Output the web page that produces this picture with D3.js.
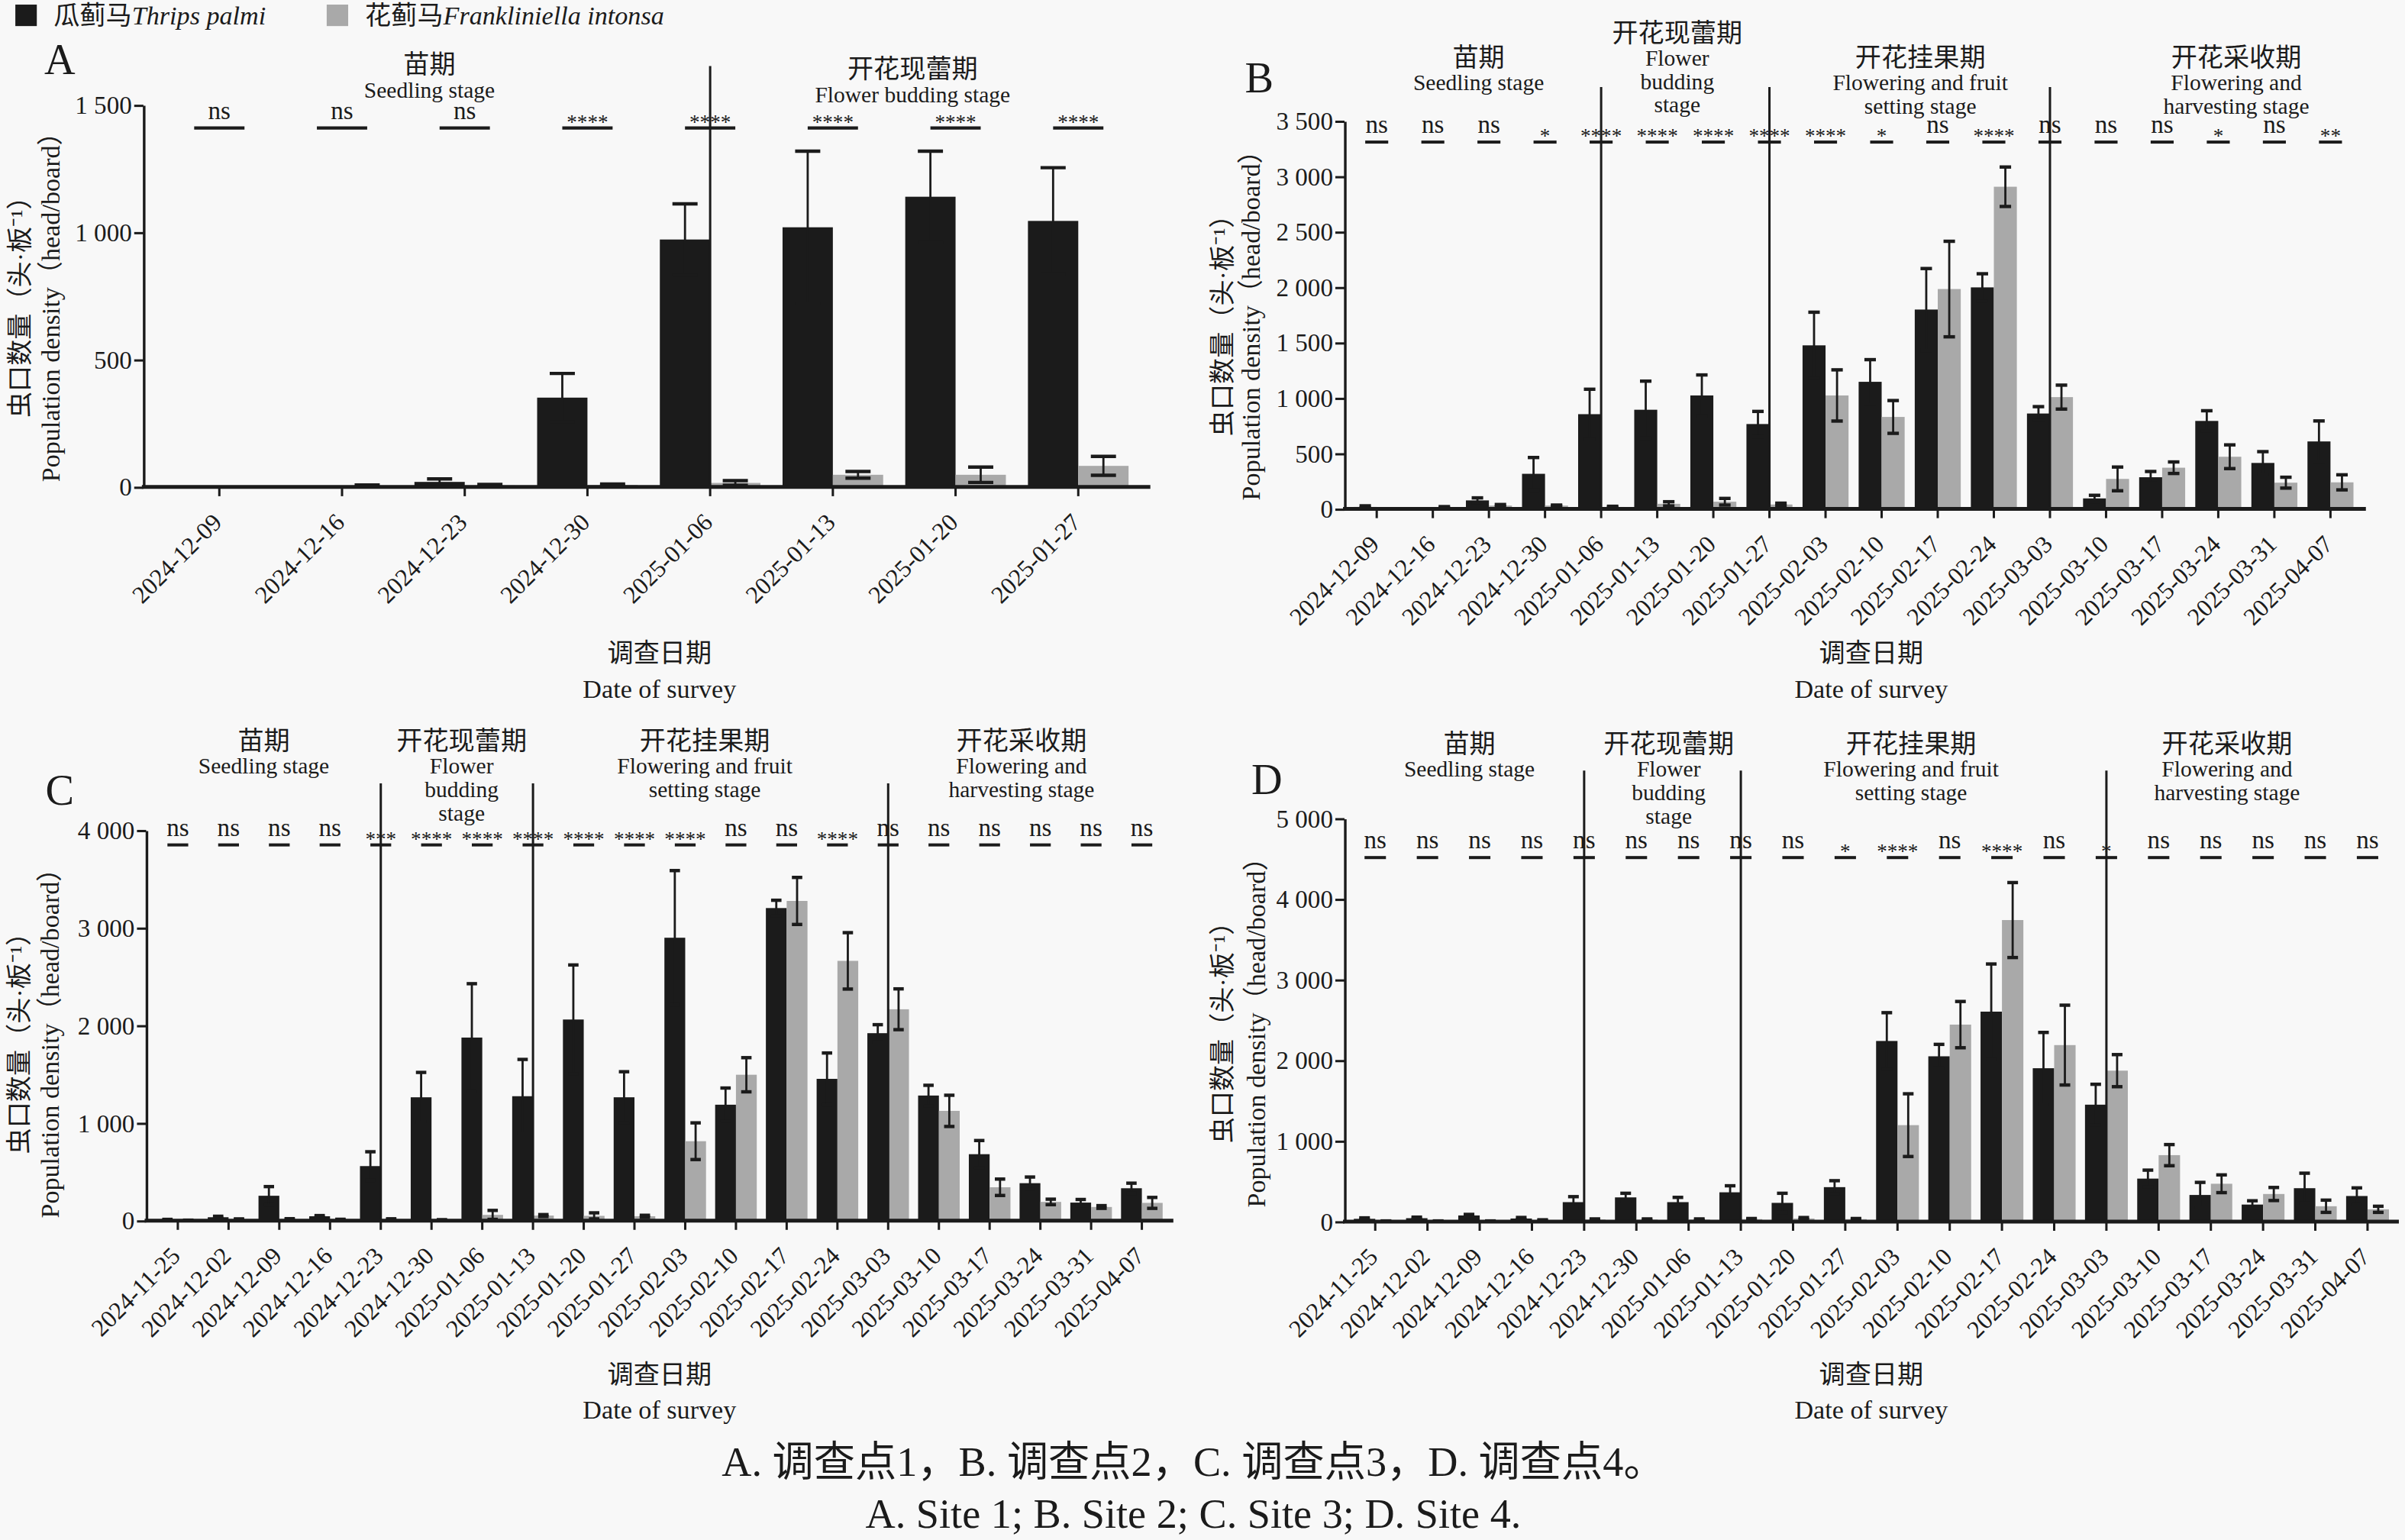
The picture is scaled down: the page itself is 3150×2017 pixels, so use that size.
<!DOCTYPE html>
<html>
<head>
<meta charset="utf-8">
<script src="https://cdn.jsdelivr.net/npm/d3@7"></script>
<style>
  html, body { margin: 0; padding: 0; background: #f8f8f8; }
  svg { display: block; }
  text { font-family: "Liberation Serif", "Times New Roman", "Noto Sans CJK SC", serif; fill: #1b1b1b; }
</style>
</head>
<body>
<svg id="chart"></svg>
<script>
// ---------- data ----------
const datesA = ['2024-12-09', '2024-12-16', '2024-12-23', '2024-12-30', '2025-01-06', '2025-01-13', '2025-01-20', '2025-01-27'];
const datesB = ['2024-12-09', '2024-12-16', '2024-12-23', '2024-12-30', '2025-01-06', '2025-01-13', '2025-01-20', '2025-01-27',
  '2025-02-03', '2025-02-10', '2025-02-17', '2025-02-24', '2025-03-03', '2025-03-10', '2025-03-17', '2025-03-24', '2025-03-31', '2025-04-07'];
const datesCD = ['2024-11-25', '2024-12-02', '2024-12-09', '2024-12-16', '2024-12-23', '2024-12-30', '2025-01-06', '2025-01-13',
  '2025-01-20', '2025-01-27', '2025-02-03', '2025-02-10', '2025-02-17', '2025-02-24', '2025-03-03', '2025-03-10', '2025-03-17',
  '2025-03-24', '2025-03-31', '2025-04-07'];

// Site 1
const palmiA = [0, 0, 20, 351, 972, 1020, 1140, 1045];
const palmiErrA = [0, 0, 12, 95, 140, 299, 179, 209];
const intonsaA = [0, 4, 6, 8, 16, 48, 48, 83];
const intonsaErrA = [0, 4, 4, 4, 9, 13, 30, 37];
const sigA = ['ns', 'ns', 'ns', '****', '****', '****', '****', '****'];

// Site 2
const palmiB = [18, 0, 77, 317, 855, 895, 1024, 766, 1476, 1147, 1799, 1999, 861, 95, 286, 794, 415, 609];
const palmiErrB = [10, 0, 23, 147, 225, 258, 185, 114, 299, 200, 370, 123, 62, 28, 52, 92, 102, 185];
const intonsaB = [0, 15, 30, 30, 18, 46, 65, 40, 1024, 830, 1984, 2907, 1009, 271, 372, 471, 237, 240];
const intonsaErrB = [0, 6, 10, 5, 6, 19, 30, 12, 231, 148, 431, 178, 108, 107, 52, 107, 49, 68];
const sigB = ['ns', 'ns', 'ns', '*', '****', '****', '****', '****', '****', '*', 'ns', '****', 'ns', 'ns', 'ns', '*', 'ns', '**'];

// Site 3
const palmiC = [8, 35, 255, 45, 559, 1264, 1876, 1275, 2061, 1264, 2899, 1188, 3203, 1453, 1921, 1282, 681, 384, 185, 332];
const palmiErrC = [5, 10, 94, 7, 147, 255, 552, 377, 559, 262, 688, 171, 80, 265, 87, 105, 140, 63, 32, 52];
const intonsaC = [3, 14, 14, 10, 14, 7, 59, 52, 49, 45, 814, 1495, 3276, 2662, 2166, 1125, 342, 192, 140, 182];
const intonsaErrC = [2, 4, 6, 4, 5, 3, 46, 10, 31, 10, 188, 175, 241, 289, 209, 160, 84, 28, 14, 56];
const sigC = ['ns', 'ns', 'ns', 'ns', '***', '****', '****', '****', '****', '****', '****', 'ns', 'ns', '****', 'ns', 'ns', 'ns', 'ns', 'ns', 'ns'];

// Site 4
const palmiD = [34, 42, 76, 38, 241, 300, 241, 363, 232, 427, 2240, 2050, 2604, 1902, 1450, 533, 330, 211, 414, 317];
const palmiErrD = [12, 13, 13, 13, 68, 51, 59, 81, 119, 80, 351, 148, 591, 444, 253, 105, 156, 47, 186, 101];
const intonsaD = [5, 5, 5, 17, 25, 25, 25, 30, 38, 30, 1196, 2443, 3740, 2189, 1872, 824, 469, 342, 190, 152];
const intonsaErrD = [3, 3, 3, 5, 8, 8, 8, 8, 12, 8, 389, 287, 465, 495, 199, 131, 110, 81, 76, 38];
const sigD = ['ns', 'ns', 'ns', 'ns', 'ns', 'ns', 'ns', 'ns', 'ns', '*', '****', 'ns', '****', 'ns', '*', 'ns', 'ns', 'ns', 'ns', 'ns'];

// labels
const legendNames = [['瓜蓟马', 'Thrips palmi'], ['花蓟马', 'Frankliniella intonsa']];
const stageSeedling = ['苗期', 'Seedling stage'];
const stageBudOneLine = ['开花现蕾期', 'Flower budding stage'];
const stageBud = ['开花现蕾期', 'Flower', 'budding', 'stage'];
const stageFruit = ['开花挂果期', 'Flowering and fruit', 'setting stage'];
const stageHarvest = ['开花采收期', 'Flowering and', 'harvesting stage'];
const yTitleCn = '虫口数量（头·板⁻¹）';
const yTitleEn = 'Population density（head/board）';
const xTitleCn = '调查日期';
const xTitleEn = 'Date of survey';
const captionCn = 'A. 调查点1，B. 调查点2，C. 调查点3，D. 调查点4。';
const captionEn = 'A. Site 1; B. Site 2; C. Site 3; D. Site 4.';

// ---------- drawing ----------
const W = 1568, H = 1004;
const BLACK = '#1b1b1b', GREY = '#a9a9a9';

const svg = d3.select('#chart')
    .attr('width', 3150)
    .attr('height', 2017)
    .attr('viewBox', `0 0 ${W} ${H}`)
    .attr('preserveAspectRatio', 'none');

svg.append('rect').attr('width', W).attr('height', H).attr('fill', '#f8f8f8');

// "1 500" style tick labels
const fmtTick = v => v >= 1000 ? Math.floor(v / 1000) + ' ' + String(v % 1000).padStart(3, '0') : String(v);

function drawPanel(p) {
  const g = svg.append('g').attr('class', 'panel panel-' + p.letter);

  const rows = p.dates.map((d, i) => ({
    date: d,
    palmi: p.palmi[i], palmiErr: p.palmiErr[i],
    intonsa: p.intonsa[i], intonsaErr: p.intonsaErr[i],
    sig: p.sig[i]
  }));

  const x = d3.scaleBand().domain(p.dates).range(p.xRange);
  const y = d3.scaleLinear().domain([0, p.yMax]).range(p.yRange);
  const bw = x.bandwidth() * 0.41;
  const mid = d => x(d) + x.bandwidth() / 2;
  const base = y(0);

  // bars: T. palmi left of the tick, F. intonsa right of it
  g.selectAll('rect.palmi')
    .data(rows)
    .join('rect')
      .attr('class', 'palmi')
      .attr('x', d => mid(d.date) - bw)
      .attr('y', d => y(d.palmi))
      .attr('width', bw)
      .attr('height', d => base - y(d.palmi))
      .attr('fill', BLACK);

  g.selectAll('rect.intonsa')
    .data(rows)
    .join('rect')
      .attr('class', 'intonsa')
      .attr('x', d => mid(d.date))
      .attr('y', d => y(d.intonsa))
      .attr('width', bw)
      .attr('height', d => base - y(d.intonsa))
      .attr('fill', GREY);

  // error bars (mean ± SE)
  const series = [{key: 'palmi', off: -bw / 2}, {key: 'intonsa', off: bw / 2}];
  const cap = bw * 0.5;
  series.forEach(s => {
    const eg = g.selectAll('g.err-' + s.key)
      .data(rows.filter(r => r[s.key + 'Err'] > 0))
      .join('g')
        .attr('class', 'err-' + s.key)
        .attr('stroke', BLACK);
    const hi = d => y(d[s.key] + d[s.key + 'Err']);
    const lo = d => y(Math.max(0, d[s.key] - d[s.key + 'Err']));
    eg.append('line')
      .attr('x1', d => mid(d.date) + s.off).attr('x2', d => mid(d.date) + s.off)
      .attr('y1', lo).attr('y2', hi)
      .attr('stroke-width', 1.4);
    eg.append('line')
      .attr('x1', d => mid(d.date) + s.off - cap / 2).attr('x2', d => mid(d.date) + s.off + cap / 2)
      .attr('y1', hi).attr('y2', hi)
      .attr('stroke-width', 2.2);
    eg.append('line')
      .attr('x1', d => mid(d.date) + s.off - cap / 2).attr('x2', d => mid(d.date) + s.off + cap / 2)
      .attr('y1', lo).attr('y2', lo)
      .attr('stroke-width', 2.2);
  });

  // significance marks
  const sy = y(p.sigLevel);
  g.selectAll('line.sig')
    .data(rows)
    .join('line')
      .attr('class', 'sig')
      .attr('x1', d => mid(d.date) - bw / 2)
      .attr('x2', d => mid(d.date) + bw / 2)
      .attr('y1', sy).attr('y2', sy)
      .attr('stroke', BLACK)
      .attr('stroke-width', 2);
  g.selectAll('text.sig')
    .data(rows)
    .join('text')
      .attr('class', 'sig')
      .attr('x', d => mid(d.date))
      .attr('y', d => d.sig === 'ns' ? sy - 6 : sy + 0.5)
      .attr('text-anchor', 'middle')
      .attr('font-size', d => d.sig === 'ns' ? 16.5 : 13.5)
      .text(d => d.sig);

  // stage dividers
  g.selectAll('line.divider')
    .data(p.dividers.map(i => p.dates[i]))
    .join('line')
      .attr('class', 'divider')
      .attr('x1', d => mid(d)).attr('x2', d => mid(d))
      .attr('y1', p.dividerTop).attr('y2', base)
      .attr('stroke', BLACK)
      .attr('stroke-width', 1.5);

  // stage labels
  p.stages.forEach(st => {
    st.lines.forEach((t, k) => {
      g.append('text')
        .attr('x', st.x)
        .attr('y', st.top + (k === 0 ? 0 : 16.5 + (k - 1) * 15.2))
        .attr('text-anchor', 'middle')
        .attr('dominant-baseline', 'central')
        .attr('font-size', k === 0 ? 17 : 14.7)
        .text(t);
    });
  });

  // y axis
  const yAxis = d3.axisLeft(y).tickValues(p.yTicks).tickSize(6).tickSizeOuter(0).tickFormat(fmtTick);
  const ya = g.append('g')
      .attr('transform', `translate(${p.axisX},0)`)
      .call(yAxis)
      .attr('font-family', null)
      .attr('font-size', null);
  ya.select('.domain').attr('stroke', BLACK).attr('stroke-width', 1.7);
  ya.selectAll('.tick line').attr('stroke', BLACK).attr('stroke-width', 1.5);
  ya.selectAll('.tick text').attr('x', -7.5).attr('font-size', 16.5).attr('fill', BLACK);

  // x axis
  const xa = g.append('g')
      .attr('transform', `translate(0,${base})`)
      .call(d3.axisBottom(x).tickSize(6).tickSizeOuter(0))
      .attr('font-family', null)
      .attr('font-size', null);
  xa.select('.domain').remove();
  xa.selectAll('.tick line').attr('stroke', BLACK).attr('stroke-width', 1.5);
  xa.selectAll('.tick text')
      .attr('x', 0).attr('y', 0).attr('dy', null)
      .attr('text-anchor', 'end')
      .attr('transform', 'translate(2.5,24) rotate(-45)')
      .attr('font-size', 16)
      .attr('fill', BLACK);
  g.append('line')
    .attr('x1', p.axisX - 1).attr('x2', p.axisEnd)
    .attr('y1', base).attr('y2', base)
    .attr('stroke', BLACK)
    .attr('stroke-width', 2.5);

  // axis titles
  g.append('text')
    .attr('transform', `translate(${p.yTitle[0]},${p.yTitle[2]}) rotate(-90)`)
    .attr('text-anchor', 'middle').attr('dominant-baseline', 'central')
    .attr('font-size', 17)
    .text(yTitleCn);
  g.append('text')
    .attr('transform', `translate(${p.yTitle[1]},${p.yTitle[2]}) rotate(-90)`)
    .attr('text-anchor', 'middle').attr('dominant-baseline', 'central')
    .attr('font-size', 17)
    .text(yTitleEn);

  g.append('text')
    .attr('x', p.xTitle[0]).attr('y', p.xTitle[1])
    .attr('text-anchor', 'middle').attr('dominant-baseline', 'central')
    .attr('font-size', 17)
    .text(xTitleCn);
  g.append('text')
    .attr('x', p.xTitle[0]).attr('y', p.xTitle[1] + 23)
    .attr('text-anchor', 'middle').attr('dominant-baseline', 'central')
    .attr('font-size', 17)
    .text(xTitleEn);

  // panel letter
  g.append('text')
    .attr('x', p.letterPos[0]).attr('y', p.letterPos[1])
    .attr('text-anchor', 'middle').attr('dominant-baseline', 'central')
    .attr('font-size', 28)
    .text(p.letter);
}

drawPanel({
  letter: 'A', letterPos: [39, 39],
  dates: datesA, palmi: palmiA, palmiErr: palmiErrA, intonsa: intonsaA, intonsaErr: intonsaErrA, sig: sigA,
  xRange: [103, 743], yRange: [317.5, 68.5], yMax: 1500, yTicks: [0, 500, 1000, 1500],
  axisX: 93.5, axisEnd: 750, sigLevel: 1410,
  dividers: [4], dividerTop: 43,
  stages: [{x: 280, top: 42, lines: stageSeedling}, {x: 595, top: 45, lines: stageBudOneLine}],
  yTitle: [13, 33, 196], xTitle: [430, 426]
});

drawPanel({
  letter: 'B', letterPos: [821, 51],
  dates: datesB, palmi: palmiB, palmiErr: palmiErrB, intonsa: intonsaB, intonsaErr: intonsaErrB, sig: sigB,
  xRange: [879.3, 1537.7], yRange: [331.8, 78.9], yMax: 3500, yTicks: [0, 500, 1000, 1500, 2000, 2500, 3000, 3500],
  axisX: 876.6, axisEnd: 1542.5, sigLevel: 3310,
  dividers: [4, 7, 12], dividerTop: 56.7,
  stages: [
    {x: 964, top: 37.5, lines: stageSeedling},
    {x: 1093.5, top: 21.5, lines: stageBud},
    {x: 1252, top: 37.5, lines: stageFruit},
    {x: 1458, top: 37.5, lines: stageHarvest}
  ],
  yTitle: [797, 815.5, 208], xTitle: [1220, 426]
});

drawPanel({
  letter: 'C', letterPos: [39, 515],
  dates: datesCD, palmi: palmiC, palmiErr: palmiErrC, intonsa: intonsaC, intonsaErr: intonsaErrC, sig: sigC,
  xRange: [99.4, 761], yRange: [795.8, 541.3], yMax: 4000, yTicks: [0, 1000, 2000, 3000, 4000],
  axisX: 95.3, axisEnd: 765, sigLevel: 3850,
  dividers: [4, 7, 14], dividerTop: 510.7,
  stages: [
    {x: 172, top: 483, lines: stageSeedling},
    {x: 301, top: 483, lines: stageBud},
    {x: 459.5, top: 483, lines: stageFruit},
    {x: 666, top: 483, lines: stageHarvest}
  ],
  yTitle: [12.5, 32.6, 676], xTitle: [430, 896]
});

drawPanel({
  letter: 'D', letterPos: [826, 508],
  dates: datesCD, palmi: palmiD, palmiErr: palmiErrD, intonsa: intonsaD, intonsaErr: intonsaErrD, sig: sigD,
  xRange: [879.6, 1560.6], yRange: [796.4, 533.6], yMax: 5000, yTicks: [0, 1000, 2000, 3000, 4000, 5000],
  axisX: 876.6, axisEnd: 1564, sigLevel: 4515,
  dividers: [4, 7, 14], dividerTop: 502.4,
  stages: [
    {x: 958, top: 485, lines: stageSeedling},
    {x: 1088, top: 485, lines: stageBud},
    {x: 1246, top: 485, lines: stageFruit},
    {x: 1452, top: 485, lines: stageHarvest}
  ],
  yTitle: [797, 819, 669], xTitle: [1220, 896]
});

// legend
const legend = svg.append('g').attr('class', 'legend');
const legendX = [10, 213];
const legendFill = [BLACK, GREY];
legendNames.forEach((nm, i) => {
  legend.append('rect')
    .attr('x', legendX[i]).attr('y', 3)
    .attr('width', 14).attr('height', 14)
    .attr('fill', legendFill[i]);
  const t = legend.append('text')
    .attr('x', legendX[i] + 25).attr('y', 10)
    .attr('dominant-baseline', 'central')
    .attr('font-size', 17);
  t.append('tspan').text(nm[0]);
  t.append('tspan').attr('font-style', 'italic').text(nm[1]);
});

// caption
svg.append('text')
  .attr('x', 778).attr('y', 953)
  .attr('text-anchor', 'middle').attr('dominant-baseline', 'central')
  .attr('font-size', 27)
  .text(captionCn);
svg.append('text')
  .attr('x', 778).attr('y', 987)
  .attr('text-anchor', 'middle').attr('dominant-baseline', 'central')
  .attr('font-size', 27)
  .text(captionEn);
</script>
</body>
</html>
